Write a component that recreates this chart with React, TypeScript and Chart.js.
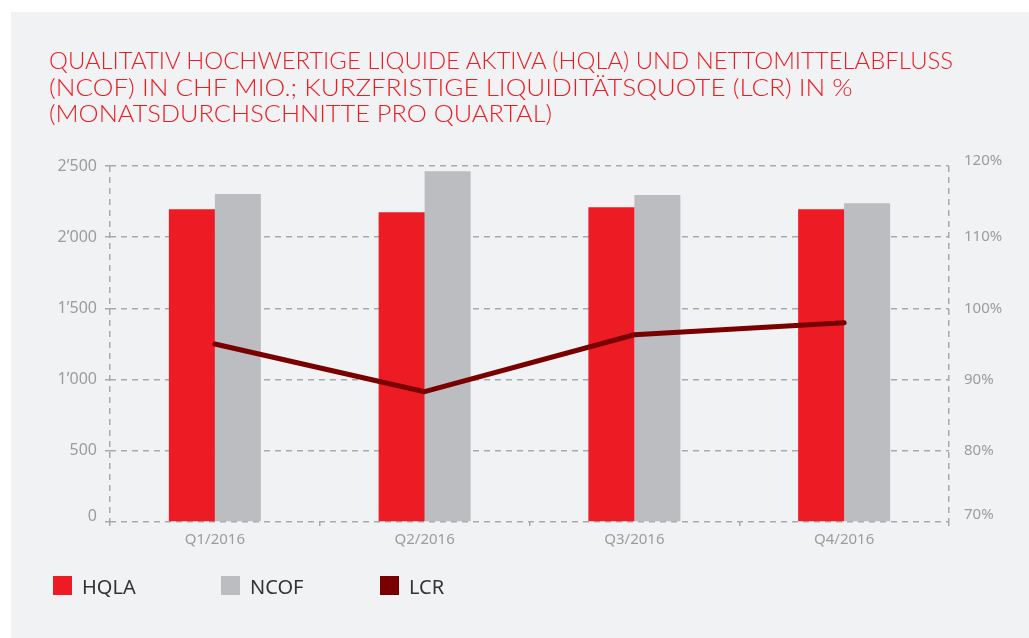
import React, { useEffect, useLayoutEffect, useRef, useState } from 'react';
import { Chart, registerables } from 'chart.js';

Chart.register(...registerables);

const categories = ['Q1/2016', 'Q2/2016', 'Q3/2016', 'Q4/2016'];
const hqla = [2197, 2176, 2211, 2197];
const ncof = [2303, 2464, 2296, 2239];
const lcr = [95.0, 88.3, 96.3, 98.0];
const seriesNames = ['HQLA', 'NCOF', 'LCR'];
const seriesColors = ['#ed1c24', '#bcbdc0', '#7a0000'];
const titleLines = [
  'QUALITATIV HOCHWERTIGE LIQUIDE AKTIVA (HQLA) UND NETTOMITTELABFLUSS',
  '(NCOF) IN CHF MIO.; KURZFRISTIGE LIQUIDITÄTSQUOTE (LCR) IN %',
  '(MONATSDURCHSCHNITTE PRO QUARTAL)',
];
const titleWidths = [904, 804, 503];
const leftRange = [0, 2500, 500];
const rightRange = [70, 120, 10];

const GRID = '#a9a9a9';
const DASH = [6, 5];
const TICK_COLOR = '#9c9c9c';

const fmtThousands = (v: number) =>
  v >= 1000 ? `${Math.floor(v / 1000)}\u2019${String(v % 1000).padStart(3, '0')}` : String(v);

// nudges the end labels of the value axes the way the reference sets them
const endLabelNudge = {
  id: 'endLabelNudge',
  beforeDraw(chart: any) {
    const adjust: Record<string, [number, number]> = { y: [-6, 0], y1: [-7, -5] };
    Object.keys(adjust).forEach((id) => {
      const scale = chart.scales[id];
      if (!scale) return;
      const items = scale.getLabelItems(chart.chartArea);
      if (!items || items._nudged) return;
      const [first, last] = adjust[id];
      const a = items[0];
      const b = items[items.length - 1];
      if (a) a.options.translation = [a.options.translation[0], a.options.translation[1] + first];
      if (b) b.options.translation = [b.options.translation[0], b.options.translation[1] + last];
      items._nudged = true;
    });
  },
};

export default function App() {
  const canvasRef = useRef<HTMLCanvasElement | null>(null);
  const lineRefs = useRef<(HTMLSpanElement | null)[]>([]);
  const [scales, setScales] = useState<number[]>([1, 1, 1]);

  useLayoutEffect(() => {
    const s = titleWidths.map((tw, i) => {
      const el = lineRefs.current[i];
      const w = el ? el.offsetWidth : 0;
      return w > 0 ? tw / w : 1;
    });
    setScales(s);
  }, []);

  useEffect(() => {
    if (!canvasRef.current) return;
    Chart.defaults.font.family = '"Noto Sans", sans-serif';
    const chart = new Chart(canvasRef.current, {
      type: 'bar',
      data: {
        labels: categories,
        datasets: [
          {
            type: 'bar',
            label: seriesNames[0],
            data: hqla,
            backgroundColor: seriesColors[0],
            yAxisID: 'y',
            categoryPercentage: 0.4386,
            barPercentage: 1,
            order: 2,
          },
          {
            type: 'bar',
            label: seriesNames[1],
            data: ncof,
            backgroundColor: seriesColors[1],
            yAxisID: 'y',
            categoryPercentage: 0.4386,
            barPercentage: 1,
            order: 2,
          },
          {
            type: 'line',
            label: seriesNames[2],
            data: lcr,
            borderColor: seriesColors[2],
            backgroundColor: seriesColors[2],
            borderWidth: 5,
            pointRadius: 0,
            borderCapStyle: 'round',
            borderJoinStyle: 'round',
            tension: 0,
            yAxisID: 'y1',
            order: 1,
          },
        ] as any,
      },
      options: {
        animation: false,
        responsive: false,
        maintainAspectRatio: false,
        layout: { padding: { top: 154, bottom: 86, left: 0, right: 0 } },
        plugins: {
          legend: { display: false },
          title: { display: false },
          tooltip: { enabled: false },
        },
        scales: {
          x: {
            z: 1,
            grid: {
              drawOnChartArea: true,
              drawTicks: true,
              tickLength: 4,
              lineWidth: 1.5,
              tickWidth: 1.5,
              tickColor: GRID,
              color: (c: any) => (c.type !== 'tick' || c.index === 0 ? GRID : 'rgba(0,0,0,0)'),
            },
            border: { display: false, dash: DASH },
            ticks: {
              color: TICK_COLOR,
              font: { size: 15 },
              padding: 5,
              maxRotation: 0,
            },
            afterFit: (s: any) => {
              s.height = 30;
            },
          },
          y: {
            position: 'left',
            z: 1,
            min: leftRange[0],
            max: leftRange[1],
            ticks: {
              stepSize: leftRange[2],
              callback: (v: any) => fmtThousands(Number(v)),
              color: TICK_COLOR,
              font: { size: 16 },
              padding: 8,
            },
            grid: {
              color: GRID,
              lineWidth: 1.5,
              drawTicks: true,
              tickLength: 5,
              tickWidth: 1.5,
              tickColor: GRID,
            },
            border: { display: false, dash: DASH },
            afterFit: (s: any) => {
              s.width = 99;
            },
          },
          y1: {
            position: 'right',
            min: rightRange[0],
            max: rightRange[1],
            ticks: {
              stepSize: rightRange[2],
              callback: (v: any) => `${v}%`,
              color: TICK_COLOR,
              font: { size: 15 },
              padding: 15,
            },
            grid: { display: false, drawTicks: false },
            border: { display: false },
            afterFit: (s: any) => {
              s.width = 80;
            },
          },
        },
      } as any,
      plugins: [endLabelNudge],
    });
    return () => chart.destroy();
  }, []);

  return (
    <div style={{ position: 'absolute', left: 0, top: 0, width: 1029, height: 638, background: '#ffffff', overflow: 'hidden' }}>
      <div style={{ position: 'absolute', left: 11, top: 12, width: 1018, height: 626, background: '#f1f2f4' }}>
        <canvas ref={canvasRef} width={1018} height={626} style={{ position: 'absolute', left: 0, top: 0, width: 1018, height: 626 }} />
        <div
          style={{
            position: 'absolute',
            left: 38,
            top: 35,
            color: '#ed1c24',
            fontFamily: 'Lato, "Noto Sans", sans-serif',
            fontWeight: 300,
            fontSize: 23,
            lineHeight: '26.7px',
            whiteSpace: 'nowrap',
          }}
        >
          {titleLines.map((t, i) => (
            <div key={i} style={{ transform: `scaleX(${scales[i]})`, transformOrigin: 'left top' }}>
              <span ref={(el) => { lineRefs.current[i] = el; }}>{t}</span>
            </div>
          ))}
        </div>
        {seriesNames.map((name, i) => (
          <div
            key={name}
            style={{
              position: 'absolute',
              left: [42, 210, 369][i],
              top: 564,
              height: 19,
              display: 'flex',
              alignItems: 'center',
              fontFamily: '"Noto Sans", sans-serif',
              fontSize: 20,
              lineHeight: '19px',
              color: '#333333',
              whiteSpace: 'nowrap',
            }}
          >
            <span style={{ display: 'inline-block', width: 19, height: 19, background: seriesColors[i], marginRight: 10 }} />
            <span style={{ position: 'relative', top: 1 }}>{name}</span>
          </div>
        ))}
      </div>
    </div>
  );
}
